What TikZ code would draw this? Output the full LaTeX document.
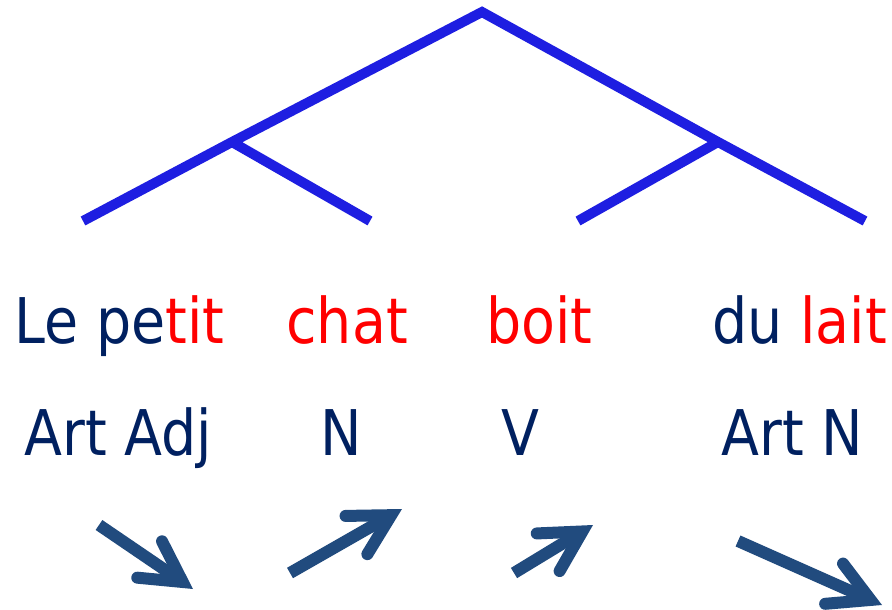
\documentclass[tikz,border=0pt]{standalone}
\usepackage{fontspec}
\setmainfont[FakeStretch=0.88]{DejaVu Sans}
\usetikzlibrary{arrows.meta}

\definecolor{treeblue}{RGB}{30,30,225}
\definecolor{wordnavy}{RGB}{0,32,96}
\definecolor{arrowblue}{RGB}{33,75,126}

\newcommand{\txtsize}{\fontsize{31.5}{36}\selectfont}
\newcommand{\wn}{\node[anchor=base west, inner sep=0pt, text=wordnavy, font=\txtsize]}
\newcommand{\rd}[1]{\textcolor{red}{#1}}
\newcommand{\branchw}{5pt}

\tikzset{pointer/.style={arrowblue, line width=6pt,
    -{Straight Barb[length=20pt, width=22pt, line cap=round, line join=miter]}}}

\begin{document}
\begin{tikzpicture}[x=0.5pt, y=-0.5pt]
            \useasboundingbox (0,0) rectangle (892,609);

            % tree
            \coordinate (s) at (482,12);
            \coordinate (sn) at (232,142);
            \coordinate (sv) at (718,142);
            \coordinate (l1) at (83,221);
            \coordinate (l2) at (370,221);
            \coordinate (l3) at (578,221);
            \coordinate (l4) at (865,221);

            \draw[treeblue, line width=\branchw]
                (l1) -- (sn) -- (s) -- (sv) -- (l4)
                (sn) -- (l2)
                (sv) -- (l3)
                ;

            % words
            \wn (w1) at (14,343) {Le pe\rd{tit}};
            \wn (w2) at (286,343) {\rd{chat}};
            \wn (w3) at (486,343) {\rd{boit}};
            \wn (w4) at (712,343) {du \rd{lait}};

            % categories
            \wn (c1) at (24,455) {Art Adj};
            \wn (c2) at (320,455) {N};
            \wn (c3) at (501,455) {V};
            \wn (c4) at (721,455) {Art N};

            % arrows
            \coordinate (a1s) at (99,525);
            \coordinate (a1e) at (193,589);
            \coordinate (a2s) at (290,573);
            \coordinate (a2e) at (402,509);
            \coordinate (a3s) at (514,573);
            \coordinate (a3e) at (593,525);
            \coordinate (a4s) at (738,541);
            \coordinate (a4e) at (882,605);

            \draw[pointer] (a1s) -- (a1e);
            \draw[pointer] (a2s) -- (a2e);
            \draw[pointer] (a3s) -- (a3e);
            \draw[pointer] (a4s) -- (a4e);
        \end{tikzpicture}
\end{document}
